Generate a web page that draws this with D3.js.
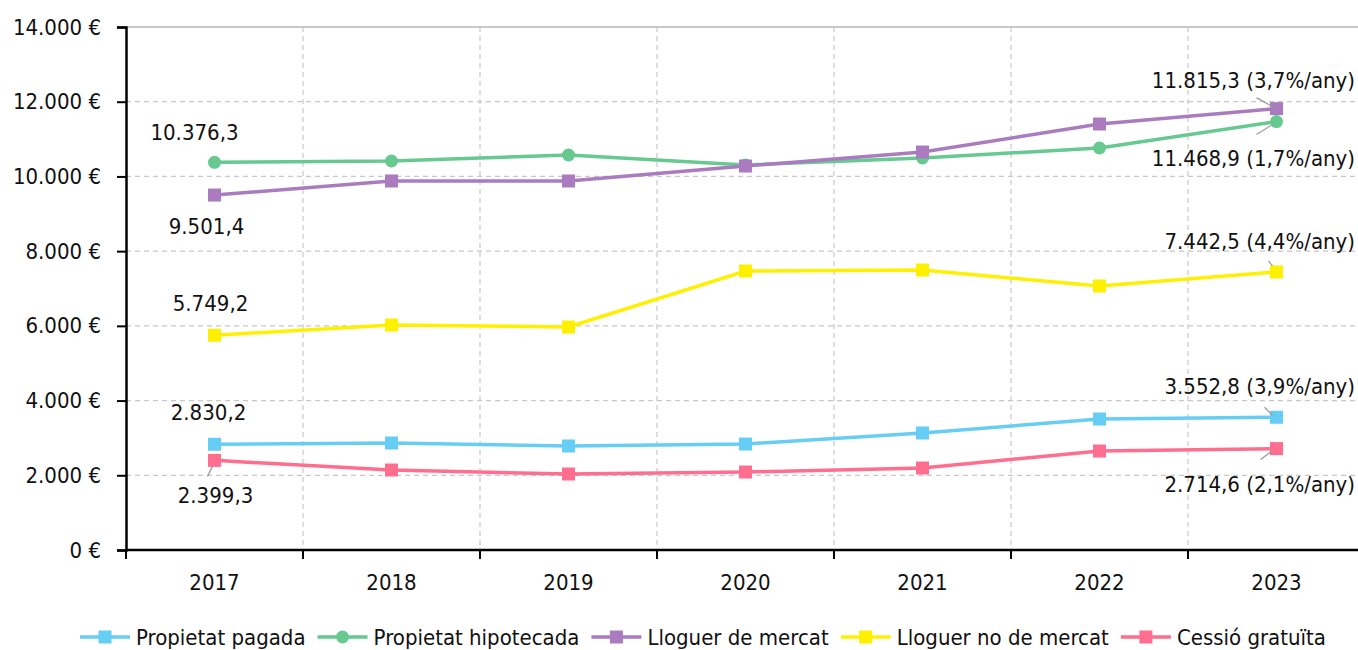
<!DOCTYPE html>
<html>
<head>
<meta charset="utf-8">
<script src="https://cdn.jsdelivr.net/npm/d3@7"></script>
<style>
  body { margin: 0; background: #fff; }
  svg text { font-family: "DejaVu Sans Condensed", "Liberation Sans Narrow", "Noto Sans", sans-serif; fill: #111; }
</style>
</head>
<body>
<svg id="chart" width="1358" height="650"></svg>
<script>
// data
var years = ["2017", "2018", "2019", "2020", "2021", "2022", "2023"];
var propietatPagada = [2830.2, 2864, 2784, 2837, 3132, 3507, 3552.8];
var propietatHipotecada = [10376.3, 10413, 10574, 10306, 10493, 10761, 11468.9];
var lloguerMercat = [9501.4, 9878, 9878, 10279, 10654, 11403, 11815.3];
var lloguerNoMercat = [5749.2, 6023, 5969, 7469, 7495, 7067, 7442.5];
var cessioGratuita = [2399.3, 2141, 2034, 2088, 2195, 2650, 2714.6];
var growth = { pagada: "3,9", hipotecada: "1,7", mercat: "3,7", noMercat: "4,4", cessio: "2,1" };
var yTicks = [0, 2000, 4000, 6000, 8000, 10000, 12000, 14000];

var series = [
  { key: "pagada", name: "Propietat pagada", values: propietatPagada, color: "#66cdf4", shape: "square" },
  { key: "hipotecada", name: "Propietat hipotecada", values: propietatHipotecada, color: "#66c990", shape: "circle" },
  { key: "mercat", name: "Lloguer de mercat", values: lloguerMercat, color: "#aa7bbf", shape: "square" },
  { key: "noMercat", name: "Lloguer no de mercat", values: lloguerNoMercat, color: "#fff000", shape: "square" },
  { key: "cessio", name: "Cessió gratuïta", values: cessioGratuita, color: "#ff6e8e", shape: "square" }
];

var svg = d3.select("#chart");
var mLeft = 126, mRight = 1365, mTop = 27, mBottom = 550;
var fs = 22;

var x = d3.scaleBand().domain(years).range([mLeft, mRight]);
var y = d3.scaleLinear().domain([0, 14000]).range([mBottom, mTop]);
var fmt = d3.formatLocale({ decimal: ",", thousands: ".", grouping: [3], currency: ["", " €"] });
var fmtY = function(v) { return fmt.format(",.0f")(v) + " €"; };
var fmtV = fmt.format(",.1f");

// grid
svg.append("g").selectAll("line")
  .data(yTicks.filter(d => d > 0))
  .enter().append("line")
    .attr("x1", mLeft).attr("x2", 1358)
    .attr("y1", d => y(d)).attr("y2", d => y(d))
    .attr("stroke", "#c8c8c8")
    .attr("stroke-width", d => d == 14000 ? 2 : 1.2)
    .attr("stroke-dasharray", d => d == 14000 ? null : "5,4");
svg.append("g").selectAll("line")
  .data(years.slice(1))
  .enter().append("line")
    .attr("x1", d => x(d)).attr("x2", d => x(d))
    .attr("y1", mTop).attr("y2", mBottom)
    .attr("stroke", "#c8c8c8").attr("stroke-width", 1.2)
    .attr("stroke-dasharray", "5,4");

// axes
var yAxis = svg.append("g")
  .attr("transform", `translate(${mLeft},0)`)
  .call(d3.axisLeft(y).tickValues(yTicks).tickFormat(fmtY).tickSize(9).tickPadding(16));
yAxis.select(".domain").attr("stroke", "#000").attr("stroke-width", 2.5);
yAxis.selectAll(".tick line").attr("stroke", "#000").attr("stroke-width", 2);
yAxis.selectAll("text").attr("font-size", fs).attr("fill", "#111").attr("font-family", null);

var xAxis = svg.append("g").attr("transform", `translate(0,${mBottom})`);
xAxis.append("line").attr("x1", mLeft).attr("x2", 1358).attr("stroke", "#000").attr("stroke-width", 2.5);
xAxis.selectAll("line.tk").data(years).enter().append("line")
  .attr("class", "tk")
  .attr("x1", d => x(d)).attr("x2", d => x(d)).attr("y1", 0).attr("y2", 9)
  .attr("stroke", "#000").attr("stroke-width", 2);
xAxis.selectAll("text").data(years).enter().append("text")
  .attr("x", d => x(d) + x.bandwidth() / 2).attr("y", 40)
  .attr("text-anchor", "middle").attr("font-size", fs).text(d => d);

// lines
var line = d3.line().x((d, i) => x(years[i]) + x.bandwidth() / 2).y(d => y(d));

function drawMarker(g, shape, color, cx, cy) {
  if (shape == "circle") {
    g.append("circle").attr("cx", cx).attr("cy", cy).attr("r", 6.5).attr("fill", color);
  } else {
    g.append("rect").attr("x", cx - 6.5).attr("y", cy - 6.5).attr("width", 13).attr("height", 13).attr("fill", color);
  }
}

series.forEach(s => {
  var g = svg.append("g");
  g.append("path").attr("d", line(s.values)).attr("fill", "none")
    .attr("stroke", s.color).attr("stroke-width", 3.5);
  s.values.forEach((v, i) => drawMarker(g, s.shape, s.color, x(years[i]) + x.bandwidth() / 2, y(v)));
});

// labels
var cx0 = x(years[0]) + x.bandwidth() / 2;
var cxN = x(years[6]) + x.bandwidth() / 2;
var firstLabels = [
  { s: series[1], dx: -20, dy: -22 },
  { s: series[2], dx: -8, dy: 39 },
  { s: series[3], dx: -4, dy: -24 },
  { s: series[0], dx: -6, dy: -24 },
  { s: series[4], dx: 1, dy: 43, leader: [[-7, 16], [-2, 6]] }
];
firstLabels.forEach(l => {
  var py = y(l.s.values[0]);
  svg.append("text").attr("x", cx0 + l.dx).attr("y", py + l.dy)
    .attr("text-anchor", "middle").attr("font-size", fs).text(fmtV(l.s.values[0]));
  if (l.leader) {
    svg.append("line").attr("x1", cx0 + l.leader[0][0]).attr("y1", py + l.leader[0][1])
      .attr("x2", cx0 + l.leader[1][0]).attr("y2", py + l.leader[1][1])
      .attr("stroke", "#999").attr("stroke-width", 1.2);
  }
});

var lastLabels = [
  { s: series[2], dy: -21, leader: [[-20, -11], [-4, -2]] },
  { s: series[1], dy: 44, leader: [[-20, 13], [-4, 3]] },
  { s: series[3], dy: -23, leader: [[-8, -11], [-4, -6]] },
  { s: series[0], dy: -23, leader: [[-12, -10], [-4, -2]] },
  { s: series[4], dy: 43, leader: [[-16, 11], [-4, 2]] }
];
lastLabels.forEach(l => {
  var v = l.s.values[6], py = y(v);
  svg.append("text").attr("x", 1355).attr("y", py + l.dy)
    .attr("text-anchor", "end").attr("font-size", fs)
    .text(fmtV(v) + " (" + growth[l.s.key] + "%/any)");
  svg.append("line").attr("x1", cxN + l.leader[0][0]).attr("y1", py + l.leader[0][1])
    .attr("x2", cxN + l.leader[1][0]).attr("y2", py + l.leader[1][1])
    .attr("stroke", "#999").attr("stroke-width", 1.2);
});

// legend
var legend = svg.append("g").attr("transform", "translate(80,637)");
var lx = 0;
series.forEach(s => {
  var g = legend.append("g").attr("transform", `translate(${lx},0)`);
  g.append("line").attr("x1", 0).attr("x2", 50).attr("y1", 0).attr("y2", 0)
    .attr("stroke", s.color).attr("stroke-width", 3.5);
  drawMarker(g, s.shape, s.color, 25, 0);
  var t = g.append("text").attr("x", 56).attr("y", 8).attr("font-size", fs).text(s.name);
  lx += 56 + t.node().getComputedTextLength() + 12;
});
</script>
</body>
</html>
